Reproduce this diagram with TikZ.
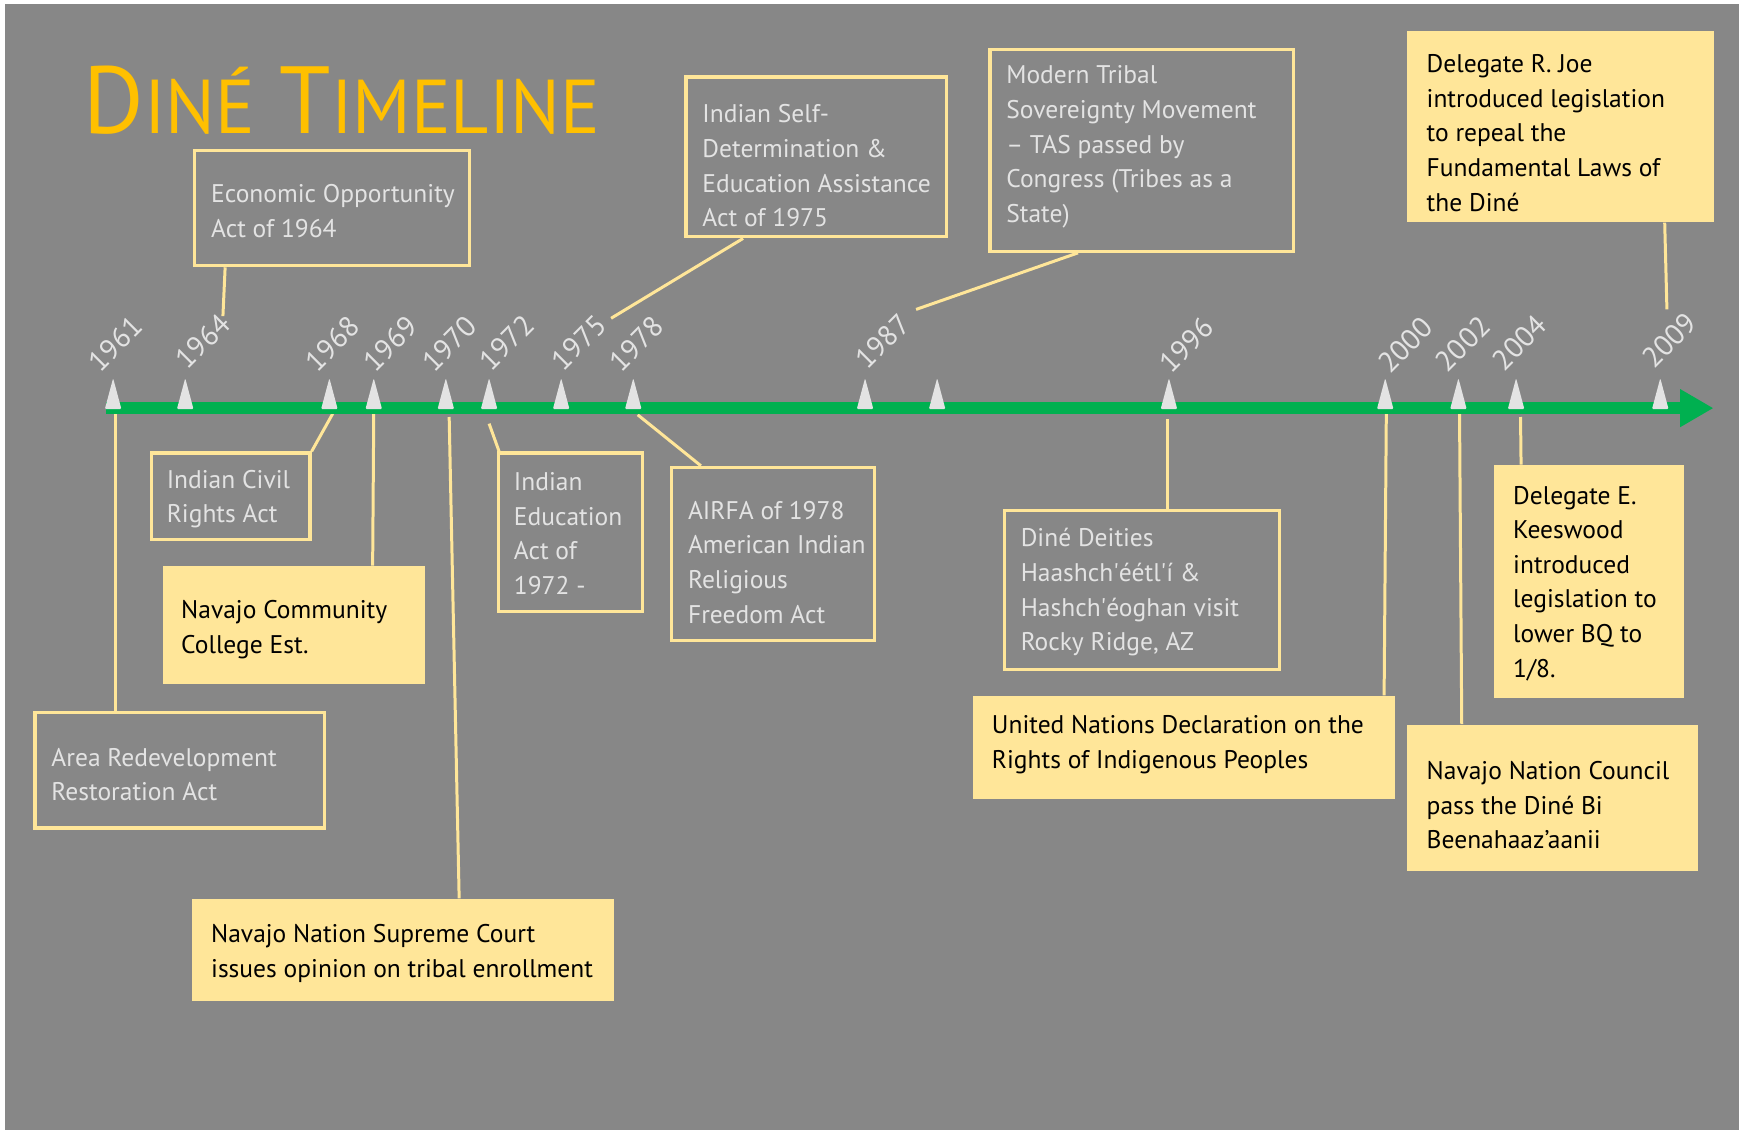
\documentclass[tikz,border=0pt]{standalone}
\usepackage{fontspec}
\newfontfamily\tf{PT Sans}[Ligatures=TeXOff]
\newfontfamily\tft{PT Sans}[Ligatures=TeXOff,FakeStretch=0.97]
\usetikzlibrary{arrows.meta,calc}
\definecolor{bg}{HTML}{878787}
\definecolor{ylw}{HTML}{FFE699}
\definecolor{gold}{HTML}{FFC000}
\definecolor{grn}{HTML}{00B050}
\definecolor{lt}{HTML}{E3E3E3}
\newcommand\tbig{\fontsize{43}{43}\selectfont}
\newcommand\tsml{\fontsize{34.4}{34.4}\selectfont}
\newcommand\sq{\XeTeXglyph\XeTeXcharglyph"27\relax}
\begin{document}
\begin{tikzpicture}[x=0.5pt,y=-0.5pt,
  obox/.style={draw=ylw, line width=1.5pt, inner sep=0pt, anchor=north west},
  fbox/.style={fill=ylw, inner sep=0pt, anchor=north west},
  lbl/.style={font=\tf\fontsize{11.5}{15.6}\selectfont, text=lt, align=left, inner sep=0pt, anchor=west},
  dlbl/.style={lbl, text=black},
  yr/.style={font=\tf\fontsize{13}{14}\selectfont, text=lt, rotate=45, inner sep=0pt},
  con/.style={draw=ylw, line width=1.35pt},
  tri/.style={fill=lt, rounded corners=0.6pt},
  ttl/.style={font=\tft, text=gold, inner sep=0pt, anchor=base west}]
\useasboundingbox (0,0) rectangle (1568,1021);
\fill[white] (0,0) rectangle (1568,1021);
\fill[bg] (4.5,3.6) rectangle (1568,1019);

% title
\node[ttl] (title) at (75,120) {{\tbig D}{\tsml INÉ}{\tbig{} T}{\tsml IMELINE}};

% boxes above the axis
\node[obox, minimum width=124pt, minimum height=52pt] (econ) at (174,134) {};
\node[obox, minimum width=117.5pt, minimum height=72pt] (selfdet) at (617,68) {};
\node[obox, minimum width=137pt, minimum height=91pt] (modern) at (891,43) {};
\node[fbox, minimum width=138.5pt, minimum height=86pt] (joe) at (1268,28) {};

% boxes below the axis
\node[obox, minimum width=71.5pt, minimum height=39pt] (civil) at (135,407) {};
\node[fbox, minimum width=118pt, minimum height=53pt] (ncc) at (147,510) {};
\node[obox, minimum width=130.5pt, minimum height=52pt] (area) at (30,641) {};
\node[fbox, minimum width=190pt, minimum height=46pt] (supreme) at (173,810) {};
\node[obox, minimum width=65pt, minimum height=71.5pt] (ied) at (448,407) {};
\node[obox, minimum width=91.5pt, minimum height=78pt] (airfa) at (604,420) {};
\node[obox, minimum width=124pt, minimum height=71.5pt] (deities) at (904,459) {};
\node[fbox, minimum width=190pt, minimum height=46.5pt] (un) at (877,627) {};
\node[fbox, minimum width=85.5pt, minimum height=105pt] (keeswood) at (1347,419) {};
\node[fbox, minimum width=131.5pt, minimum height=66pt] (council) at (1268,653) {};

% texts
\node[lbl] (econ-t) at (190,190.5) {Economic Opportunity\\Act of 1964};
\node[lbl] (selfdet-t) at (633,149.5) {Indian Self-\\Determination \&\\Education Assistance\\Act of 1975};
\node[lbl] (modern-t) at (907,132.5) {Modern Tribal\\Sovereignty Movement\\– TAS passed by\\Congress (Tribes as a\\State)};
\node[dlbl] (joe-t) at (1286,120) {Delegate R. Joe\\introduced legislation\\to repeal the\\Fundamental Laws of\\the Diné};
\node[lbl] (civil-t) at (150,450) {Indian Civil\\Rights Act};
\node[dlbl] (ncc-t) at (163,567.5) {Navajo Community\\College Est.};
\node[lbl] (area-t) at (46,698.5) {Area Redevelopment\\Restoration Act};
\node[dlbl] (supreme-t) at (190,859.5) {Navajo Nation Supreme Court\\issues opinion on tribal enrollment};
\node[lbl] (ied-t) at (463,481) {Indian\\Education\\Act of\\1972 -};
\node[lbl] (airfa-t) at (620,507) {AIRFA of 1978\\American Indian\\Religious\\Freedom Act};
\node[lbl] (deities-t) at (920,534) {Diné Deities\\Haashch\sq éétl\sq í \&\\Hashch\sq éoghan visit\\Rocky Ridge, AZ};
\node[dlbl] (un-t) at (894,671.5) {United Nations Declaration on the\\Rights of Indigenous Peoples};
\node[dlbl] (keeswood-t) at (1364,526) {Delegate E.\\Keeswood\\introduced\\legislation to\\lower BQ to\\1/8.};
\node[dlbl] (council-t) at (1286,726) {Navajo Nation Council\\pass the Diné Bi\\Beenahaaz’aanii};

% connector ends
\coordinate (k1961) at (104,372);
\coordinate (k1964) at (201,285);
\coordinate (k1968) at (300,373);
\coordinate (k1969) at (337,372);
\coordinate (k1970) at (405,376);
\coordinate (k1972) at (441,382);
\coordinate (k1975) at (551,287);
\coordinate (k1978) at (575,374);
\coordinate (k1987) at (826,279);
\coordinate (k1996) at (1053,378);
\coordinate (k2000) at (1250,372);
\coordinate (k2002) at (1316,372);
\coordinate (k2004) at (1371,376);
\coordinate (k2009) at (1503,279);

% connectors
\draw[con] ([xshift=37pt]area.north west) -- (k1961);
\draw[con] ([xshift=14.5pt]econ.south west) -- (k1964);
\draw[con] (civil.north east) -- (k1968);
\draw[con] ([xshift=94.5pt]ncc.north west) -- (k1969);
\draw[con] ([xshift=120.5pt]supreme.north west) -- (k1970);
\draw[con] ([xshift=1pt]ied.north west) -- (k1972);
\draw[con] ([xshift=26.5pt]selfdet.south west) -- (k1975);
\draw[con] ([xshift=14pt]airfa.north west) -- (k1978);
\draw[con] ([xshift=40.5pt]modern.south west) -- (k1987);
\draw[con] ([xshift=74.5pt]deities.north west) -- (k1996);
\draw[con] ([xshift=185.5pt]un.north west) -- (k2000);
\draw[con] ([xshift=25pt]council.north west) -- (k2002);
\draw[con] ([xshift=12.25pt]keeswood.north west) -- (k2004);
\draw[con] ([xshift=116.5pt]joe.south west) -- (k2009);

% axis
\coordinate (axL) at (96,368);
\coordinate (axR) at (1545,368);
\draw[grn, line width=5.25pt, -{Triangle[length=15pt,width=16pt]}] (axL) -- (axR);

% tick triangles
\foreach \x in {102,167,297,337,402,441,506,571,780,845,1054,1249,1315,1367,1497}
  \fill[tri] (\x-7.5,369) -- (\x,341) -- (\x+7.5,369) -- cycle;

% year labels
\node[yr] (y1961) at (104,310) {1961};
\node[yr] (y1964) at (183,308) {1964};
\node[yr] (y1968) at (300,310) {1968};
\node[yr] (y1969) at (352,310) {1969};
\node[yr] (y1970) at (405,310) {1970};
\node[yr] (y1972) at (457,309) {1972};
\node[yr] (y1975) at (522,309) {1975};
\node[yr] (y1978) at (574,310) {1978};
\node[yr] (y1987) at (796,308) {1987};
\node[yr] (y1996) at (1070,311) {1996};
\node[yr] (y2000) at (1267,311) {2000};
\node[yr] (y2002) at (1319,310) {2002};
\node[yr] (y2004) at (1370,309) {2004};
\node[yr] (y2009) at (1505,307) {2009};
\end{tikzpicture}
\end{document}
